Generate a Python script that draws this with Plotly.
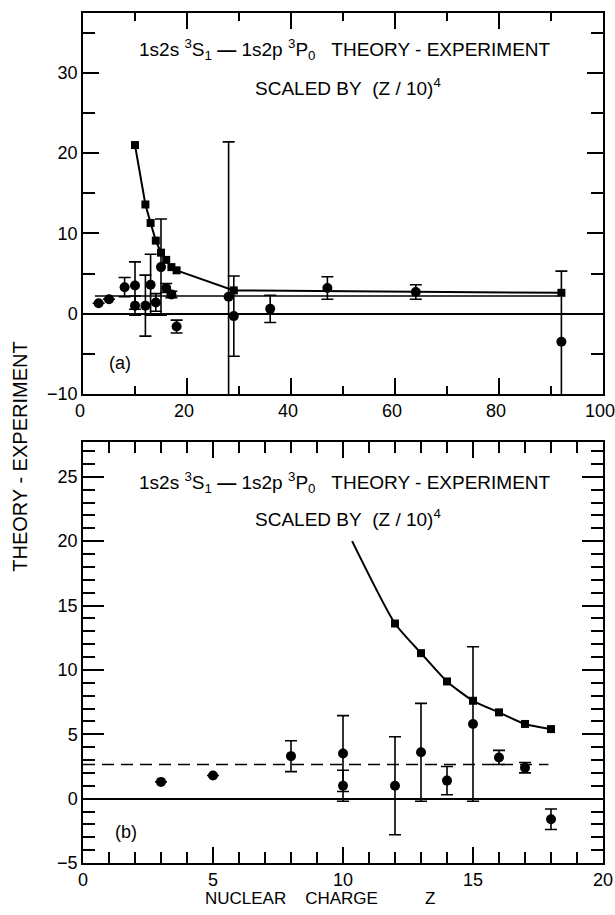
import plotly.graph_objects as go

# ---------------- data ----------------
# experiment (circles), theory - experiment scaled by (Z/10)^4
exp_z = [3, 5, 8, 10, 10, 12, 13, 14, 15, 16, 17, 18, 28, 29, 36, 47, 64, 92]
exp_y = [1.3, 1.8, 3.3, 3.5, 1.0, 1.0, 3.6, 1.4, 5.8, 3.2, 2.4, -1.6, 2.1, -0.3, 0.6, 3.2, 2.7, -3.5]
exp_err = [0, 0, 1.2, 2.95, 1.2, 3.8, 3.8, 1.1, 6.0, 0.55, 0.4, 0.8, 19.3, 5.0, 1.7, 1.4, 0.9, 8.8]

# theory curve (squares)
theo_z = [10, 12, 13, 14, 15, 16, 17, 18, 29, 92]
theo_y = [21.0, 13.6, 11.3, 9.1, 7.6, 6.7, 5.8, 5.4, 2.9, 2.6]

# panel (b) theory curve (starts at top of drawn curve)
curve_b_z = [10.35, 12, 13, 14, 15, 16, 17, 18]
curve_b_y = [20.0, 13.6, 11.3, 9.1, 7.6, 6.7, 5.8, 5.4]

# mean lines
mean_a_z = [2.3, 91.5]
mean_a_y = [2.2, 2.2]
mean_b_z = [0, 17.9]
mean_b_y = [2.65, 2.65]

# axis ticks
xa_ticks = [0, 20, 40, 60, 80, 100]
ya_ticks = [-10, 0, 10, 20, 30]
xb_ticks = [0, 5, 10, 15, 20]
yb_ticks = [-5, 0, 5, 10, 15, 20, 25]

FONT = "Liberation Sans, Arial, Helvetica, sans-serif"
BLACK = "black"

fig = go.Figure()

# ---- panel (a) ----
fig.add_trace(go.Scatter(x=mean_a_z, y=mean_a_y, mode="lines",
                         line=dict(color=BLACK, width=1.5), xaxis="x", yaxis="y"))
fig.add_trace(go.Scatter(x=theo_z, y=theo_y, mode="lines+markers",
                         line=dict(color=BLACK, width=2),
                         marker=dict(symbol="square", size=8, color=BLACK),
                         xaxis="x", yaxis="y"))
fig.add_trace(go.Scatter(x=exp_z, y=exp_y, mode="markers",
                         marker=dict(symbol="circle", size=10, color=BLACK),
                         error_y=dict(type="data", array=exp_err, visible=True,
                                      color=BLACK, thickness=1.6, width=6),
                         xaxis="x", yaxis="y"))

# ---- panel (b) ----
fig.add_trace(go.Scatter(x=mean_b_z, y=mean_b_y, mode="lines",
                         line=dict(color=BLACK, width=1.5, dash="12px,7px"),
                         xaxis="x2", yaxis="y2"))
fig.add_trace(go.Scatter(x=curve_b_z, y=curve_b_y, mode="lines",
                         line=dict(color=BLACK, width=2, shape="spline", smoothing=0.6),
                         xaxis="x2", yaxis="y2"))
fig.add_trace(go.Scatter(x=theo_z[1:8], y=theo_y[1:8], mode="markers",
                         marker=dict(symbol="square", size=8, color=BLACK),
                         xaxis="x2", yaxis="y2"))
fig.add_trace(go.Scatter(x=exp_z, y=exp_y, mode="markers",
                         marker=dict(symbol="circle", size=10, color=BLACK),
                         error_y=dict(type="data", array=exp_err, visible=True,
                                      color=BLACK, thickness=1.6, width=6),
                         xaxis="x2", yaxis="y2"))

tickfont = dict(family=FONT, size=18, color=BLACK)

def axis(domain=None, anchor=None, rng=None, tickvals=None, ticklen=16,
         minor_dtick=None, minor_len=10, zeroline=False, shift=0):
    d = dict(range=rng, tickvals=tickvals, ticks="inside", ticklen=ticklen,
             tickwidth=1.5, tickcolor=BLACK, showline=True, linecolor=BLACK,
             linewidth=1.5, mirror="allticks", showgrid=False, automargin=False,
             zeroline=zeroline, zerolinecolor=BLACK, zerolinewidth=1.5,
             tickfont=tickfont, anchor=anchor, ticklabeloverflow="allow",
             ticklabelshift=shift,
             minor=dict(dtick=minor_dtick, ticks="inside", ticklen=minor_len,
                        tickwidth=1.5, tickcolor=BLACK, showgrid=False))
    if domain is not None:
        d["domain"] = domain
    return d

fig.update_layout(
    width=615, height=915,
    margin=dict(l=83, r=12, t=13, b=52),
    paper_bgcolor="white", plot_bgcolor="white",
    showlegend=False,
    font=dict(family=FONT, size=18, color=BLACK),
    xaxis=axis(anchor="y", rng=[0, 100], tickvals=xa_ticks, ticklen=16,
               minor_dtick=10, minor_len=8, shift=-3),
    yaxis=axis(domain=[0.5518, 1.0], anchor="x", rng=[-10, 37.45],
               tickvals=ya_ticks, ticklen=16, minor_dtick=5, minor_len=12,
               zeroline=True),
    xaxis2=axis(anchor="y2", rng=[0, 20], tickvals=xb_ticks, ticklen=16,
                minor_dtick=1, minor_len=11),
    yaxis2=axis(domain=[0.0, 0.4953], anchor="x2", rng=[-5, 27.7],
                tickvals=yb_ticks, ticklen=21, minor_dtick=1, minor_len=12,
                zeroline=True),
)

line1 = ("1s2s <sup>3</sup>S<sub>1</sub> <b>\u2014</b> 1s2p <sup>3</sup>P<sub>0</sub>"
         "\u00a0\u00a0\u00a0THEORY - EXPERIMENT")
line2 = "SCALED BY\u00a0\u00a0(Z / 10)<sup>4</sup>"

annots = [
    dict(text=line1, x=0.104, y=0.9565),
    dict(text=line2, x=0.327, y=0.913),
    dict(text=line1, x=0.104, y=0.448),
    dict(text=line2, x=0.327, y=0.406),
]
for a in annots:
    fig.add_annotation(xref="paper", yref="paper", xanchor="left", yanchor="middle",
                       showarrow=False, font=dict(family=FONT, size=19, color=BLACK), **a)

fig.add_annotation(text="(a)", xref="paper", yref="paper", x=0.071, y=0.588,
                   xanchor="center", yanchor="middle",
                   showarrow=False, font=dict(family=FONT, size=18, color=BLACK))
fig.add_annotation(text="(b)", xref="paper", yref="paper", x=0.082, y=0.0365,
                   xanchor="center", yanchor="middle",
                   showarrow=False, font=dict(family=FONT, size=18, color=BLACK))
fig.add_annotation(text="THEORY - EXPERIMENT", xref="paper", yref="paper",
                   x=-0.121, y=0.478, xanchor="center", yanchor="middle",
                   textangle=-90, showarrow=False,
                   font=dict(family=FONT, size=20, color=BLACK))
fig.add_annotation(text="NUCLEAR\u00a0\u00a0\u00a0\u00a0CHARGE"
                        "\u00a0\u00a0\u00a0\u00a0\u00a0\u00a0\u00a0\u00a0\u00a0\u00a0Z",
                   xref="paper", yref="paper",
                   x=0.0, xanchor="left", xshift=120, y=-0.0415, yanchor="middle",
                   showarrow=False,
                   font=dict(family=FONT, size=17, color=BLACK))

fig.write_html("out.html", post_script="document.body.style.margin='0';",
               config={"displayModeBar": False})
